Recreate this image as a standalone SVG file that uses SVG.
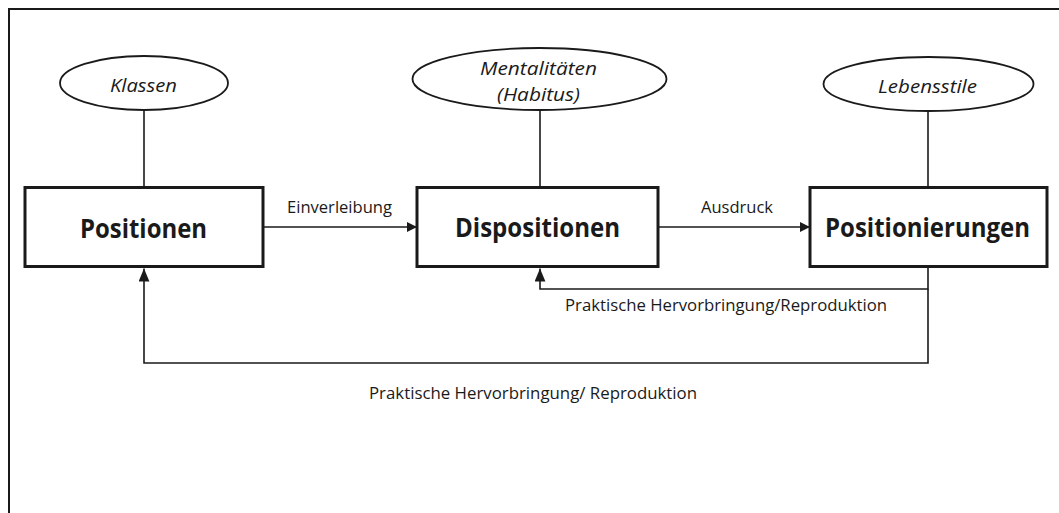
<svg xmlns="http://www.w3.org/2000/svg" width="1059" height="513" viewBox="0 0 1059 513">
<style>
.frame{fill:none;stroke:#1a1a1a;stroke-width:2}
.box{fill:#fff;stroke:#1a1a1a;stroke-width:3}
.ell{fill:#fff;stroke:#1a1a1a;stroke-width:1.8}
.ln{fill:none;stroke:#1a1a1a;stroke-width:1.6}
.bt{font-family:"Open Sans","Liberation Sans",sans-serif;font-weight:bold;font-size:27px;fill:#1a1a1a}
.it{font-family:"Open Sans","Liberation Sans",sans-serif;font-style:italic;font-size:18px;fill:#1a1a1a}
.lb{font-family:"Open Sans","Liberation Sans",sans-serif;font-size:16px;fill:#1a1a1a}
</style>
<defs>
<marker id="ah" viewBox="0 0 10 10" refX="10" refY="5" markerWidth="10" markerHeight="10" markerUnits="userSpaceOnUse" orient="auto">
<path d="M0,0 L10,5 L0,10 Z" fill="#1a1a1a"/>
</marker>
<marker id="ahv" viewBox="0 0 12 10" refX="12" refY="5" markerWidth="13" markerHeight="11" markerUnits="userSpaceOnUse" orient="auto">
<path d="M0,0 L12,5 L0,10 Z" fill="#1a1a1a"/>
</marker>
</defs>
<rect width="1059" height="513" fill="#fff"/>
<path class="frame" d="M9,513 V9 H1059"/>
<g id="connectors">
<line class="ln" x1="144" y1="110" x2="144" y2="187"/>
<line class="ln" x1="540" y1="110" x2="540" y2="187"/>
<line class="ln" x1="928" y1="111" x2="928" y2="187"/>
<line class="ln" x1="263" y1="227" x2="417" y2="227" marker-end="url(#ah)"/>
<line class="ln" x1="658" y1="227" x2="810" y2="227" marker-end="url(#ah)"/>
<path class="ln" d="M928,267 V289 H540 V268.5" marker-end="url(#ahv)"/>
<path class="ln" d="M928,289 V363 H144 V268.5" marker-end="url(#ahv)"/>
<text class="lb" x="287" y="213" textLength="105" lengthAdjust="spacingAndGlyphs">Einverleibung</text>
<text class="lb" x="701" y="213" textLength="72" lengthAdjust="spacingAndGlyphs">Ausdruck</text>
<text class="lb" x="565" y="311" textLength="322" lengthAdjust="spacingAndGlyphs">Praktische Hervorbringung/Reproduktion</text>
<text class="lb" x="369" y="399" textLength="328" lengthAdjust="spacingAndGlyphs">Praktische Hervorbringung/ Reproduktion</text>
</g>
<g id="klassen">
<ellipse class="ell" cx="144" cy="83" rx="84" ry="27"/>
<text class="it" x="110" y="92" textLength="67" lengthAdjust="spacingAndGlyphs">Klassen</text>
</g>
<g id="mentalitaeten">
<ellipse class="ell" cx="539.5" cy="79" rx="127" ry="31"/>
<text class="it" x="480" y="75" textLength="117" lengthAdjust="spacingAndGlyphs">Mentalitäten</text>
<text class="it" x="497" y="101" textLength="83" lengthAdjust="spacingAndGlyphs">(Habitus)</text>
</g>
<g id="lebensstile">
<ellipse class="ell" cx="928.5" cy="84" rx="105" ry="27"/>
<text class="it" x="878" y="93" textLength="99" lengthAdjust="spacingAndGlyphs">Lebensstile</text>
</g>
<g id="positionen">
<rect class="box" x="25" y="187.5" width="238" height="79"/>
<text class="bt" x="80" y="238" textLength="127" lengthAdjust="spacingAndGlyphs">Positionen</text>
</g>
<g id="dispositionen">
<rect class="box" x="417" y="187.5" width="241" height="79"/>
<text class="bt" x="455" y="237" textLength="165" lengthAdjust="spacingAndGlyphs">Dispositionen</text>
</g>
<g id="positionierungen">
<rect class="box" x="810" y="187.5" width="237" height="79"/>
<text class="bt" x="825" y="237" textLength="205" lengthAdjust="spacingAndGlyphs">Positionierungen</text>
</g>
</svg>
